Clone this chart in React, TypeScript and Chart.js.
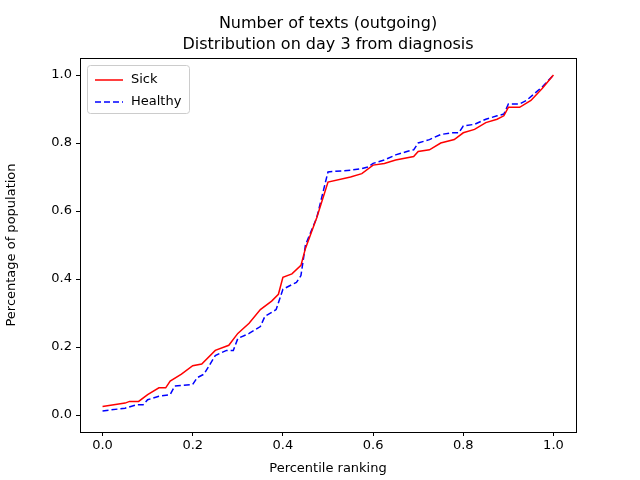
import { useEffect, useRef } from "react"
import { Chart, registerables } from "chart.js"

Chart.register(...registerables)

const sickX = [0, 0.05, 0.06, 0.08, 0.1, 0.125, 0.14, 0.15, 0.175, 0.2, 0.22, 0.25, 0.28, 0.3, 0.325, 0.35, 0.375, 0.39, 0.4, 0.42, 0.44, 0.45, 0.475, 0.5, 0.55, 0.575, 0.6, 0.625, 0.65, 0.69, 0.7, 0.725, 0.75, 0.78, 0.8, 0.825, 0.85, 0.875, 0.89, 0.9, 0.925, 0.95, 0.975, 1.0]
const sickY = [0.025, 0.035, 0.04, 0.04, 0.06, 0.08, 0.08, 0.1, 0.12, 0.145, 0.15, 0.19, 0.205, 0.24, 0.27, 0.31, 0.335, 0.355, 0.405, 0.415, 0.44, 0.49, 0.58, 0.685, 0.7, 0.71, 0.735, 0.74, 0.75, 0.76, 0.775, 0.78, 0.8, 0.81, 0.83, 0.84, 0.86, 0.87, 0.88, 0.905, 0.905, 0.925, 0.96, 1.0]
const healthyX = [0, 0.05, 0.075, 0.09, 0.1, 0.125, 0.15, 0.16, 0.2, 0.21, 0.225, 0.25, 0.275, 0.29, 0.3, 0.325, 0.35, 0.36, 0.385, 0.4, 0.43, 0.44, 0.45, 0.475, 0.5, 0.55, 0.575, 0.59, 0.6, 0.625, 0.65, 0.675, 0.69, 0.7, 0.725, 0.75, 0.775, 0.79, 0.8, 0.825, 0.85, 0.875, 0.89, 0.9, 0.925, 0.94, 0.975, 1.0]
const healthyY = [0.012, 0.02, 0.03, 0.03, 0.045, 0.055, 0.06, 0.085, 0.09, 0.11, 0.12, 0.175, 0.19, 0.19, 0.225, 0.24, 0.26, 0.29, 0.31, 0.37, 0.39, 0.41, 0.5, 0.58, 0.715, 0.72, 0.725, 0.73, 0.74, 0.75, 0.765, 0.775, 0.78, 0.8, 0.81, 0.825, 0.83, 0.83, 0.85, 0.855, 0.87, 0.88, 0.885, 0.915, 0.915, 0.925, 0.965, 1.0]
const tickValues = [0, 0.2, 0.4, 0.6, 0.8, 1.0]

const FONT = "'DejaVu Sans', sans-serif"

const decorations = {
  id: "decorations",
  afterDraw(chart: Chart) {
    const { ctx, chartArea: a } = chart
    ctx.save()
    ctx.strokeStyle = "#000"
    ctx.lineWidth = 1
    ctx.strokeRect(a.left + 0.5, a.top + 0.5, a.right - a.left, a.bottom - a.top)
    // title
    ctx.fillStyle = "#000"
    ctx.font = `16px ${FONT}`
    ctx.textAlign = "center"
    ctx.textBaseline = "alphabetic"
    const cx = (a.left + a.right) / 2
    ctx.fillText("Number of texts (outgoing)", cx, 28)
    ctx.fillText("Distribution on day 3 from diagnosis", cx, 49)
    // legend
    const lx = a.left + 7, ly = a.top + 7
    ctx.fillStyle = "rgba(255,255,255,0.8)"
    ctx.strokeStyle = "#ccc"
    ctx.beginPath()
    ctx.roundRect(lx + 0.5, ly + 0.5, 102, 48, 3)
    ctx.fill()
    ctx.stroke()
    ctx.font = `13px ${FONT}`
    ctx.textAlign = "left"
    ctx.textBaseline = "middle"
    chart.data.datasets.forEach((ds: any, i: number) => {
      const y = ly + 15 + i * 22
      ctx.strokeStyle = ds.borderColor
      ctx.lineWidth = 1.5
      ctx.setLineDash(ds.borderDash || [])
      ctx.beginPath()
      ctx.moveTo(lx + 8, y)
      ctx.lineTo(lx + 36, y)
      ctx.stroke()
      ctx.setLineDash([])
      ctx.fillStyle = "#000"
      ctx.fillText(ds.label, lx + 44, y)
    })
    ctx.restore()
  },
}

export default function App() {
  const ref = useRef<HTMLCanvasElement>(null)

  useEffect(() => {
    document.body.style.margin = "0"
    if (!ref.current) return
    const tickOpts = { color: "#000", font: { family: FONT, size: 13 } }
    const chart = new Chart(ref.current, {
      type: "scatter",
      data: {
        datasets: [
          {
            label: "Sick",
            data: sickX.map((x, i) => ({ x, y: sickY[i] })),
            showLine: true,
            borderColor: "#ff0000",
            borderWidth: 1.5,
            pointRadius: 0,
          },
          {
            label: "Healthy",
            data: healthyX.map((x, i) => ({ x, y: healthyY[i] })),
            showLine: true,
            borderColor: "#0000ff",
            borderDash: [6, 3],
            borderWidth: 1.5,
            pointRadius: 0,
          },
        ],
      },
      options: {
        animation: false,
        responsive: false,
        layout: { padding: { top: 58, right: 64, left: 0, bottom: 0 } },
        plugins: { legend: { display: false }, title: { display: false }, tooltip: { enabled: false } },
        scales: {
          x: {
            type: "linear",
            min: -0.05,
            max: 1.05,
            afterBuildTicks: (s: any) => { s.ticks = tickValues.map((v) => ({ value: v })) },
            afterFit: (s: any) => { s.height = 48 },
            ticks: { ...tickOpts, callback: (v: any) => Number(v).toFixed(1), padding: 2 },
            grid: { drawOnChartArea: false, color: "#000", tickLength: 4 },
            border: { display: false },
            title: { display: true, text: "Percentile ranking", color: "#000", font: { family: FONT, size: 13 }, padding: { top: 2 } },
          },
          y: {
            min: -0.05,
            max: 1.05,
            afterBuildTicks: (s: any) => { s.ticks = tickValues.map((v) => ({ value: v })) },
            afterFit: (s: any) => { s.width = 80 },
            ticks: { ...tickOpts, callback: (v: any) => Number(v).toFixed(1), padding: 4 },
            grid: { drawOnChartArea: false, color: "#000", tickLength: 4 },
            border: { display: false },
            title: { display: true, text: "Percentage of population", color: "#000", font: { family: FONT, size: 13 }, padding: { bottom: 4 } },
          },
        },
      },
      plugins: [decorations],
    })
    return () => chart.destroy()
  }, [])

  return <canvas ref={ref} width={640} height={480} style={{ display: "block" }} />
}
